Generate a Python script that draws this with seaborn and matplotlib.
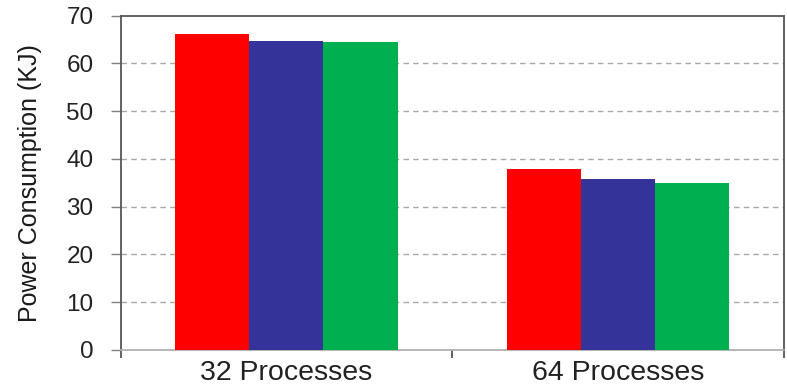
import matplotlib
matplotlib.use("Agg")
import matplotlib.pyplot as plt
import seaborn as sns
import pandas as pd
from matplotlib.ticker import FixedLocator

# Data
categories = ["32 Processes", "64 Processes"]
series_names = ["Series 1", "Series 2", "Series 3"]
series_1 = [66.2, 37.8]
series_2 = [64.7, 35.8]
series_3 = [64.5, 35.0]
colors = ["#FF0000", "#333399", "#00B050"]
y_ticks = [0, 10, 20, 30, 40, 50, 60, 70]
y_label = "Power Consumption (KJ)"

rows = []
for name, vals in zip(series_names, [series_1, series_2, series_3]):
    for cat, v in zip(categories, vals):
        rows.append({"category": cat, "series": name, "value": v})
df = pd.DataFrame(rows)

sns.set_theme(style="white")
plt.rcParams["font.family"] = ["Liberation Sans", "DejaVu Sans"]

fig = plt.figure(figsize=(7.87, 3.92), dpi=100)
ax = fig.add_axes([120.5 / 787, 1 - 350 / 392, (784 - 120.5) / 787, (350 - 15.6) / 392])

sns.barplot(data=df, x="category", y="value", hue="series", order=categories,
            hue_order=series_names, palette=colors, saturation=1, width=0.67,
            gap=0, edgecolor="none", linewidth=0, legend=False, ax=ax, zorder=3)

ax.set_xlim(-0.5, 1.5)
ax.set_ylim(0, 70)
ax.set_yticks(y_ticks)
ax.set_yticklabels([str(t) for t in y_ticks], fontsize=17.5, color="#222222")
ax.set_xlabel("")
ax.set_ylabel(y_label, fontsize=18, color="#1a1a1a")
ax.yaxis.set_label_coords(-0.118, 0.5)

# Dashed horizontal gridlines
ax.grid(False)
for t in y_ticks[1:-1]:
    ax.axhline(t, color="#A8A8A8", linewidth=1.0, linestyle=(0, (4, 3)), zorder=1)

# Ticks: outward y ticks, category-boundary x ticks
ax.tick_params(axis="y", which="major", direction="out", length=7.5, width=1.0,
               color="#808080", pad=12, left=True)
ax.tick_params(axis="x", which="major", length=0, pad=7, labelsize=20.5,
               labelcolor="#222222")
ax.xaxis.set_minor_locator(FixedLocator([-0.5, 0.5, 1.5]))
ax.tick_params(axis="x", which="minor", direction="out", length=5.5, width=1.3,
               color="#555555", bottom=True)

for side in ["left", "top", "right"]:
    ax.spines[side].set_visible(True)
    ax.spines[side].set_color("#555555")
    ax.spines[side].set_linewidth(1.3)
ax.spines["bottom"].set_color("#B0B0B0")
ax.spines["bottom"].set_linewidth(1.3)

fig.savefig("out.png", dpi=100)
